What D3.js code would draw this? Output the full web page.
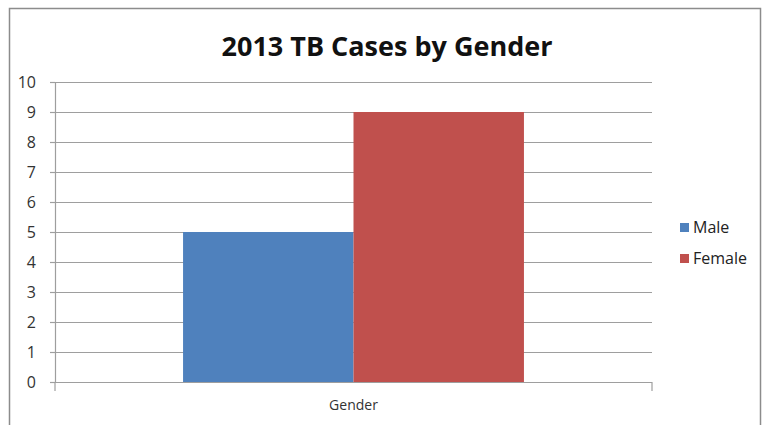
<!DOCTYPE html>
<html>
<head>
<meta charset="utf-8">
<script src="https://cdn.jsdelivr.net/npm/d3@7"></script>
<style>
  body { margin: 0; background: #fff; }
  text { font-family: "Open Sans", "Liberation Sans", sans-serif; }
</style>
</head>
<body>
<div id="chart"></div>
<script>
// data
const categories = ["Gender"]
const seriesNames = ["Male", "Female"]
const seriesValues = [5, 9]
const seriesColors = ["#4F81BD", "#C0504D"]
const yTicks = [0, 1, 2, 3, 4, 5, 6, 7, 8, 9, 10]

const W = 767, H = 425
const margin = { top: 82, right: 115, bottom: 43, left: 55 }
const width = W - margin.left - margin.right
const height = H - margin.top - margin.bottom

const svg = d3.select("#chart").append("svg")
  .attr("width", W)
  .attr("height", H)

// outer chart border
svg.append("rect")
  .attr("x", 9.5).attr("y", 8.5)
  .attr("width", 751).attr("height", 430)
  .attr("fill", "none")
  .attr("stroke", "#8c8c8c")
  .attr("stroke-width", 1.5)

svg.append("text")
  .attr("x", 387)
  .attr("y", 56)
  .attr("text-anchor", "middle")
  .attr("font-size", 27)
  .attr("font-weight", "bold")
  .attr("fill", "#111")
  .text("2013 TB Cases by Gender")

const g = svg.append("g")
  .attr("transform", `translate(${margin.left},${margin.top})`)

const y = d3.scaleLinear().domain([0, 10]).range([height, 0])
const x0 = d3.scaleBand().domain(categories).range([0, width])
const x1 = d3.scaleBand().domain(seriesNames)
  .range([x0.bandwidth() * 0.2145, x0.bandwidth() * 0.7855])

// gridlines
g.selectAll(".grid")
  .data(yTicks.filter(d => d > 0))
  .join("line")
  .attr("x1", 0).attr("x2", width)
  .attr("y1", d => y(d) + 0.5).attr("y2", d => y(d) + 0.5)
  .attr("stroke", "#9e9e9e")
  .attr("stroke-width", 1.2)

// bars
categories.forEach(c => {
  g.selectAll(".bar")
    .data(seriesNames)
    .join("rect")
    .attr("x", d => x0(c) + x1(d))
    .attr("y", (d, i) => y(seriesValues[i]))
    .attr("width", x1.bandwidth())
    .attr("height", (d, i) => height - y(seriesValues[i]))
    .attr("fill", (d, i) => seriesColors[i])
})

// y axis
const yAxis = g.append("g")
  .call(d3.axisLeft(y).tickValues(yTicks).tickSize(5).tickPadding(14))
yAxis.select(".domain").attr("stroke", "#9e9e9e").attr("stroke-width", 1.2)
yAxis.selectAll(".tick line").attr("stroke", "#9e9e9e").attr("stroke-width", 1.2)
yAxis.selectAll(".tick text")
  .attr("font-size", 16)
  .attr("fill", "#333")
  .style("font-family", "'Open Sans', sans-serif")

// x axis, ticks only at the band edges
const xAxis = g.append("g")
  .attr("transform", `translate(0,${height})`)
xAxis.append("line")
  .attr("x1", 0).attr("x2", width)
  .attr("y1", 0.5).attr("y2", 0.5)
  .attr("stroke", "#9e9e9e").attr("stroke-width", 1.2)
xAxis.selectAll(".edge")
  .data([0, width])
  .join("line")
  .attr("x1", d => d).attr("x2", d => d)
  .attr("y1", 0).attr("y2", 9)
  .attr("stroke", "#9e9e9e").attr("stroke-width", 1.2)
xAxis.selectAll(".cat")
  .data(categories)
  .join("text")
  .attr("x", d => x0(d) + x0.bandwidth() / 2)
  .attr("y", 28)
  .attr("text-anchor", "middle")
  .attr("font-size", 14)
  .attr("fill", "#333")
  .text(d => d)

// legend
const legend = svg.append("g").attr("transform", "translate(680,219)")
const item = legend.selectAll("g")
  .data(seriesNames)
  .join("g")
  .attr("transform", (d, i) => `translate(0,${i * 31})`)
item.append("rect")
  .attr("x", 0).attr("y", 4)
  .attr("width", 9).attr("height", 9)
  .attr("fill", (d, i) => seriesColors[i])
item.append("text")
  .attr("x", 13).attr("y", 14)
  .attr("font-size", 16)
  .attr("fill", "#222")
  .text(d => d)
</script>
</body>
</html>
